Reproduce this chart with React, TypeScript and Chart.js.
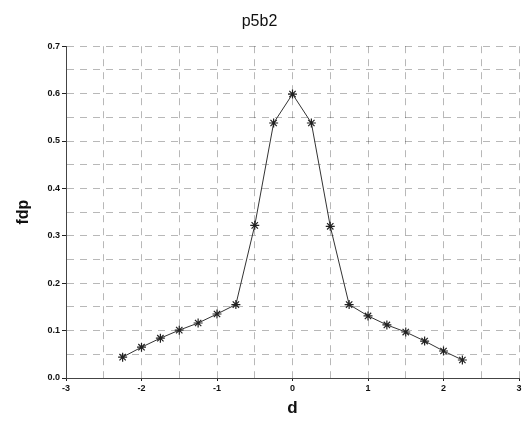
import React, { useEffect, useRef } from "react";
import { Chart, registerables } from "chart.js";

Chart.register(...registerables);

const dValues = [-2.25, -2, -1.75, -1.5, -1.25, -1, -0.75, -0.5, -0.25, 0, 0.25, 0.5, 0.75, 1, 1.25, 1.5, 1.75, 2, 2.25];
const fdpValues = [0.044, 0.065, 0.084, 0.101, 0.116, 0.135, 0.155, 0.322, 0.538, 0.599, 0.538, 0.32, 0.155, 0.131, 0.112, 0.097, 0.078, 0.057, 0.038];
const xTickLabels = ["-3", "-2", "-1", "0", "1", "2", "3"];
const yTickLabels = ["0.0", "0.1", "0.2", "0.3", "0.4", "0.5", "0.6", "0.7"];

const FONT = "'Liberation Sans', Arial, sans-serif";
const GRID = "rgba(0,0,0,0.28)";

export default function App() {
  const ref = useRef<HTMLCanvasElement>(null);
  useEffect(() => {
    if (!ref.current) return;
    const isInt = (v: number) => Math.abs(v - Math.round(v)) < 1e-6;
    const isTenth = (v: number) => Math.abs(v * 10 - Math.round(v * 10)) < 1e-6;
    const chart = new Chart(ref.current, {
      type: "line",
      data: {
        datasets: [
          {
            data: dValues.map((d, i) => ({ x: d, y: fdpValues[i] })),
            borderColor: "#333",
            borderWidth: 1,
            pointStyle: "star",
            pointRadius: 4.5,
            pointBorderColor: "#222",
            pointBorderWidth: 1.2,
            tension: 0,
          },
        ],
      },
      options: {
        animation: false,
        responsive: false,
        layout: { padding: { left: 0, right: 12, top: 2, bottom: 0 } },
        plugins: {
          legend: { display: false },
          tooltip: { enabled: false },
          title: {
            display: true,
            text: "p5b2",
            color: "#111",
            font: { family: FONT, size: 16, weight: "normal" },
            padding: { top: 10, bottom: 15 },
          },
        },
        scales: {
          x: {
            type: "linear",
            min: -3,
            max: 3,
            afterFit: (s: any) => { s.height = 47; },
            ticks: {
              stepSize: 0.5,
              autoSkip: false,
              maxRotation: 0,
              padding: 2,
              color: "#111",
              font: { family: FONT, size: 9, weight: "bold" },
              callback: (v: any) => (isInt(Number(v)) ? xTickLabels[Math.round(Number(v)) + 3] : ""),
            },
            grid: {
              color: GRID,
              lineWidth: 1,
              tickLength: 3,
              tickColor: (ctx: any) => (ctx.tick && isInt(ctx.tick.value) ? "#222" : "rgba(0,0,0,0)"),
            },
            border: { display: true, color: "#444", width: 1, dash: [7, 6] },
            title: {
              display: true,
              text: "d",
              color: "#111",
              font: { family: FONT, size: 17, weight: "bold" },
              padding: { top: 0, bottom: 6 },
            },
          },
          y: {
            type: "linear",
            min: 0,
            max: 0.7,
            afterFit: (s: any) => { s.width = 66; },
            ticks: {
              stepSize: 0.05,
              autoSkip: false,
              padding: 2,
              color: "#111",
              font: { family: FONT, size: 9, weight: "bold" },
              callback: (v: any) => {
                const n = Number(v);
                return isTenth(n) ? yTickLabels[Math.round(n * 10)] : "";
              },
            },
            grid: {
              color: GRID,
              lineWidth: 1,
              tickLength: 4,
              tickColor: (ctx: any) => (ctx.tick && isTenth(ctx.tick.value) ? "#222" : "rgba(0,0,0,0)"),
            },
            border: { display: true, color: "#444", width: 1, dash: [7, 6] },
            title: {
              display: true,
              text: "fdp",
              color: "#111",
              font: { family: FONT, size: 16, weight: "bold" },
              padding: { top: 14, bottom: 0 },
            },
          },
        },
      },
    });
    return () => chart.destroy();
  }, []);
  return (
    <div style={{ position: "fixed", left: 0, top: 0, width: 531, height: 425, background: "#fff" }}>
      <canvas ref={ref} width={531} height={425} style={{ width: 531, height: 425 }} />
    </div>
  );
}
